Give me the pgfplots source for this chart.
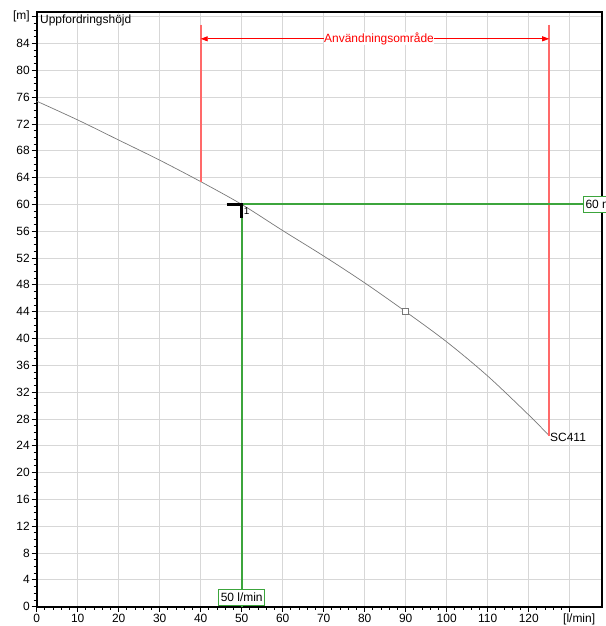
\documentclass[border=0pt]{standalone}
\usepackage{pgfplots}
\pgfplotsset{compat=1.18}
\usepackage{fontspec}
\setmainfont{Liberation Sans}
\usetikzlibrary{arrows.meta}
\definecolor{gridgray}{RGB}{215,215,215}
\definecolor{curvegray}{RGB}{120,120,120}
\definecolor{okgreen}{RGB}{60,165,60}
\definecolor{rangered}{RGB}{255,105,105}
\begin{document}
\begin{tikzpicture}
\useasboundingbox (0,0) rectangle (606bp,626bp);
\begin{axis}[
    at={(36.7bp,19.3bp)}, anchor=south west,
    scale only axis,
    width=565bp, height=594.7bp,
    xmin=0, xmax=137.8,
    ymin=0, ymax=88.7,
    xtick={0,10,...,130},
    xticklabels={0,10,20,30,40,50,60,70,80,90,100,110,120,{}},
    minor x tick num=4,
    ytick={0,4,...,88},
    yticklabels={0,4,8,12,16,20,24,28,32,36,40,44,48,52,56,60,64,68,72,76,80,84,{[m]}},
    minor y tick num=3,
    tick pos=left,
    tick align=outside,
    major tick length=5bp,
    minor tick length=3bp,
    every tick/.style={black, line width=0.9bp},
    grid=major,
    major grid style={gridgray, line width=0.8bp},
    axis line style={black, line width=1.6bp},
    tick label style={font=\fontsize{12}{14}\selectfont},
    xticklabel style={yshift=1.5bp},
    yticklabel style={xshift=1.5bp},
    /pgf/number format/assume math mode=true,
    clip=false,
]
% pump curve
\addplot[curvegray, line width=0.7bp, smooth] coordinates {
    (0,75.4) (10,72.6) (20,69.6) (30,66.6) (40,63.4) (50,60) (60,56.1)
    (70,52.3) (80,48.3) (90,44) (100,39.5) (110,34.4) (120,28.6) (125,25.5)
};
% operating range
\addplot[draw=rangered, line width=1.8bp] coordinates {(40,86.8) (40,63.4)};
\addplot[draw=rangered, line width=1.8bp] coordinates {(125,86.8) (125,25.5)};
\addplot[draw=red, line width=0.8bp, {Triangle[length=7bp,width=5bp]}-{Triangle[length=7bp,width=5bp]}]
    coordinates {(40,84.7) (125,84.7)};
\node[fill=white, inner sep=0.5bp, text=red, font=\fontsize{12}{14}\selectfont]
    at (axis cs:83.5,84.7) {Användningsområde};
% duty point
\addplot[draw=okgreen, line width=1.9bp] coordinates {(137.8,60) (50,60) (50,0)};
\addplot[draw=black, line width=2.6bp] coordinates {(46.3,60) (50,60) (50,57.9)};
\addplot[only marks, mark=square*, mark size=3bp,
    mark options={fill=white, draw=curvegray, line width=0.6bp}] coordinates {(90,44)};
\node[anchor=north west, inner sep=0pt, font=\fontsize{10}{12}\selectfont]
    at (axis cs:50.5,59.6) {1};
\node[anchor=south, draw=okgreen, line width=1.4bp, fill=white, inner sep=2bp,
    minimum height=16bp, font=\fontsize{12}{14}\selectfont] at (axis cs:50,0.1) {50 l/min};
\node[anchor=west, draw=okgreen, line width=1.4bp, fill=white, inner sep=2bp,
    minimum height=16bp, font=\fontsize{12}{14}\selectfont] at (axis cs:133.2,60) {60 m};
% labels
\node[anchor=west, inner sep=0pt, font=\fontsize{12}{14}\selectfont]
    at (axis cs:125.2,25.3) {SC411};
\node[anchor=north west, inner sep=0pt, font=\fontsize{12}{14}\selectfont]
    at (axis cs:0.8,88.3) {Uppfordringshöjd};
\node[anchor=north, inner sep=0pt, font=\fontsize{12}{14}\selectfont]
    at ([yshift=-7bp]axis cs:132.3,0) {[l/min]};
\end{axis}
\end{tikzpicture}
\end{document}
